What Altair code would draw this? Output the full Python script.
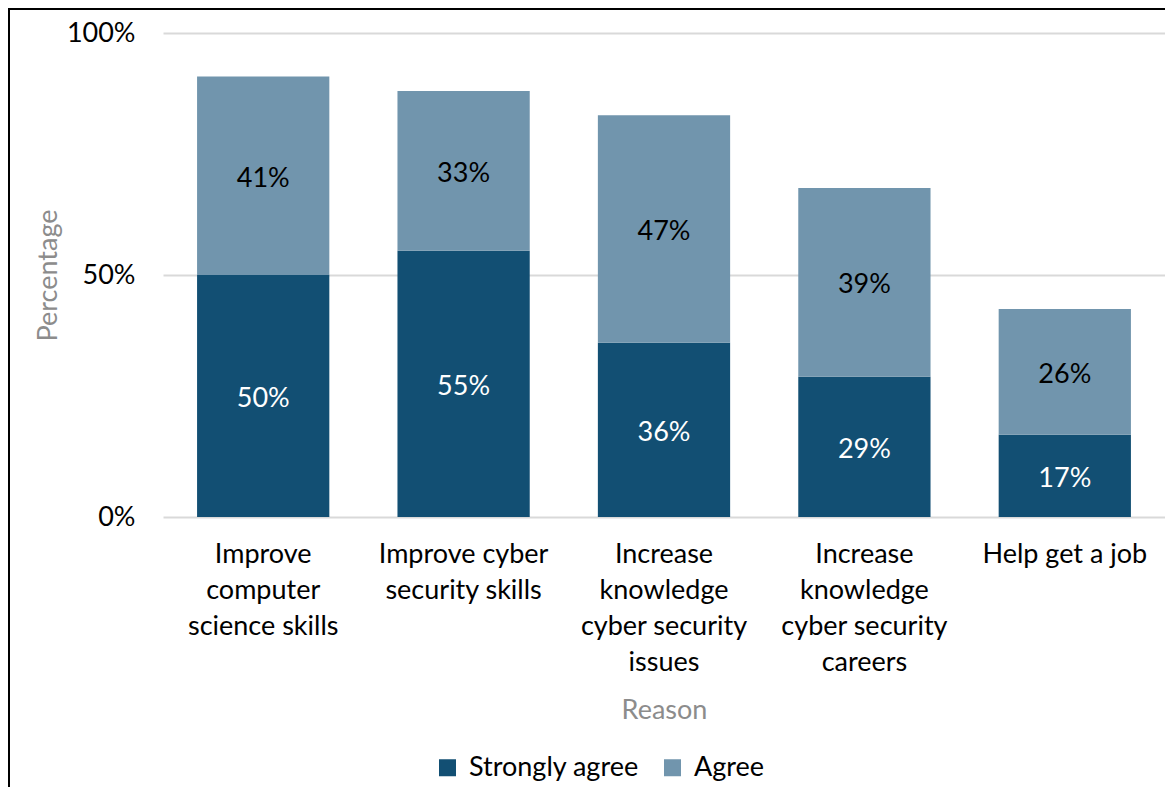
import json
import altair as alt
import pandas as pd

reasons = [
    "Improve computer science skills",
    "Improve cyber security skills",
    "Increase knowledge cyber security issues",
    "Increase knowledge cyber security careers",
    "Help get a job",
]
label_lines = {
    "Improve computer science skills": ["Improve", "computer", "science skills"],
    "Improve cyber security skills": ["Improve cyber", "security skills"],
    "Increase knowledge cyber security issues": ["Increase", "knowledge", "cyber security", "issues"],
    "Increase knowledge cyber security careers": ["Increase", "knowledge", "cyber security", "careers"],
    "Help get a job": ["Help get a job"],
}
series = ["Strongly agree", "Agree"]
strongly_agree = [50, 55, 36, 29, 17]
agree = [41, 33, 47, 39, 26]
colors = ["#124F73", "#7195AD"]
text_colors = ["#FFFFFF", "#000000"]

rows = []
for i, r in enumerate(reasons):
    rows.append({"Reason": r, "Response": series[0], "order": 0, "value": strongly_agree[i]})
    rows.append({"Reason": r, "Response": series[1], "order": 1, "value": agree[i]})
df = pd.DataFrame(rows)

FONT = "Lato"
FS = 27
label_expr = json.dumps(label_lines) + "[datum.label]"

x_enc = alt.X(
    "Reason:N",
    sort=reasons,
    title="Reason",
    scale=alt.Scale(paddingInner=0.34, paddingOuter=0.17),
    axis=alt.Axis(
        labelExpr=label_expr,
        labelAngle=0,
        labelFontSize=FS,
        labelLineHeight=36,
        labelPadding=24,
        labelColor="#000000",
        labelBaseline="top",
        ticks=False,
        domain=False,
        titleFontSize=FS,
        titleFontWeight="normal",
        titleColor="#8C8C8C",
        titlePadding=22,
    ),
)

base = alt.Chart(df).transform_stack(
    stack="value", groupby=["Reason"], sort=[alt.SortField("order")], as_=["y0", "y1"]
).transform_calculate(mid="(datum.y0 + datum.y1) / 2")

bars = base.mark_bar().encode(
    x=x_enc,
    y=alt.Y(
        "y0:Q",
        title="Percentage",
        scale=alt.Scale(domain=[0, 100]),
        axis=alt.Axis(
            values=[0, 50, 100],
            labelExpr="datum.value + '%'",
            labelFontSize=FS,
            labelColor="#000000",
            labelPadding=28,
            ticks=False,
            domain=False,
            grid=True,
            gridColor="#D9D9D9",
            gridWidth=2,
            titleFontSize=FS,
            titleFontWeight="normal",
            titleColor="#8C8C8C",
            titlePadding=4,
        ),
    ),
    y2="y1:Q",
    color=alt.Color(
        "Response:N",
        scale=alt.Scale(domain=series, range=colors),
        sort=series,
        legend=alt.Legend(
            title=None,
            orient="none",
            legendX=271,
            legendY=721,
            direction="horizontal",
            labelFontSize=FS,
            labelColor="#000000",
            labelLimit=0,
            symbolType="square",
            symbolSize=289,
            symbolStrokeWidth=0,
            columnPadding=20,
            labelOffset=8,
        ),
    ),
)

labels = base.mark_text(fontSize=FS, font=FONT, dy=3).transform_calculate(
    vtext="datum.value + '%'"
).encode(
    x=alt.X("Reason:N", sort=reasons),
    y=alt.Y("mid:Q"),
    text="vtext:N",
    color=alt.Color("Response:N", scale=alt.Scale(domain=series, range=text_colors), legend=None),
)

frame_top = alt.Chart(df).mark_rule(color="#000000", strokeWidth=2).encode(
    x=alt.value(-155), x2=alt.value(1002), y=alt.value(-24)
)
frame_left = alt.Chart(df).mark_rule(color="#000000", strokeWidth=2).encode(
    x=alt.value(-154), y=alt.value(-25), y2=alt.value(760)
)

chart = (
    alt.layer(bars, labels, frame_top, frame_left)
    .resolve_scale(color="independent")
    .properties(
        width=1002,
        height=484,
        autosize=alt.AutoSizeParams(type="none"),
        padding={"left": 155, "top": 25, "right": 0, "bottom": 270},
    )
    .configure(font=FONT)
    .configure_view(stroke=None)
)

chart.save("out.html", embed_options={"renderer": "svg", "actions": False})
